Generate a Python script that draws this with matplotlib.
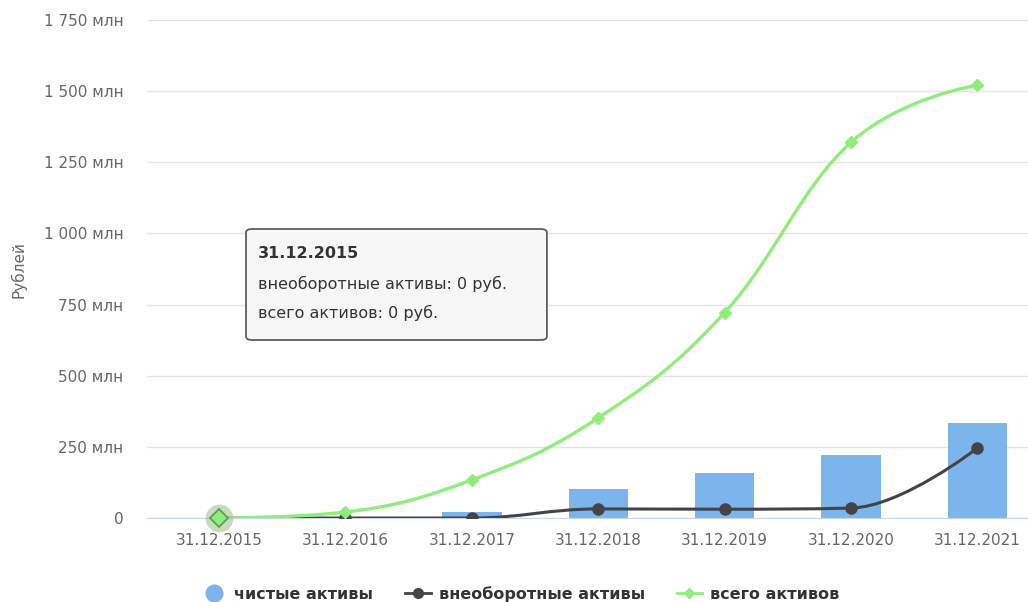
import matplotlib.pyplot as plt
import numpy as np
from matplotlib.path import Path
from matplotlib.patches import PathPatch, FancyBboxPatch
from matplotlib.ticker import FuncFormatter
from matplotlib.lines import Line2D

plt.rcParams['font.family'] = ['DejaVu Sans']

dates = ["31.12.2015", "31.12.2016", "31.12.2017", "31.12.2018",
         "31.12.2019", "31.12.2020", "31.12.2021"]
net_assets = [0, 0, 22, 102, 157, 223, 334]          # чистые активы, млн
noncurrent = [0, 0, 0, 32, 31, 35, 246]              # внеоборотные активы, млн
total_assets = [0, 21, 134, 352, 722, 1320, 1521]    # всего активов, млн

C_BAR = "#7cb5ec"
C_DARK = "#434348"
C_GREEN = "#90ed7d"


def spline_path(xs, ys, smoothing=1.5):
    # highcharts-like spline drawn as cubic bezier
    denom = smoothing + 1
    n = len(xs)
    left = [None] * n
    right = [None] * n
    for i in range(n):
        x, y = xs[i], ys[i]
        if i == 0 or i == n - 1:
            left[i] = (x, y)
            right[i] = (x, y)
            continue
        lx, ly = xs[i - 1], ys[i - 1]
        nx, ny = xs[i + 1], ys[i + 1]
        lcx = (smoothing * x + lx) / denom
        lcy = (smoothing * y + ly) / denom
        rcx = (smoothing * x + nx) / denom
        rcy = (smoothing * y + ny) / denom
        if rcx != lcx:
            corr = (rcy - lcy) * (rcx - x) / (rcx - lcx) + y - rcy
            lcy += corr
            rcy += corr
        if lcy > ly and lcy > y:
            lcy = max(ly, y)
            rcy = 2 * y - lcy
        elif lcy < ly and lcy < y:
            lcy = min(ly, y)
            rcy = 2 * y - lcy
        if rcy > ny and rcy > y:
            rcy = max(ny, y)
            lcy = 2 * y - rcy
        elif rcy < ny and rcy < y:
            rcy = min(ny, y)
            lcy = 2 * y - rcy
        left[i] = (lcx, lcy)
        right[i] = (rcx, rcy)
    verts = [(xs[0], ys[0])]
    codes = [Path.MOVETO]
    for i in range(1, n):
        verts += [right[i - 1], left[i], (xs[i], ys[i])]
        codes += [Path.CURVE4] * 3
    return Path(verts, codes)


fig = plt.figure(figsize=(10.28, 6.02), dpi=100)
ax = fig.add_axes([0.143, 0.1395, 0.857, 0.8272])

x = np.arange(len(dates))
ax.bar(x, net_assets, width=0.47, color=C_BAR, zorder=2)

ax.add_patch(PathPatch(spline_path(x, noncurrent), fill=False,
                       edgecolor=C_DARK, lw=2.2, zorder=3))
ax.plot(x, noncurrent, ls="none", marker="o", ms=8, color=C_DARK, zorder=4)

ax.add_patch(PathPatch(spline_path(x, total_assets), fill=False,
                       edgecolor=C_GREEN, lw=2.4, zorder=5))
ax.plot(x, total_assets, ls="none", marker="D", ms=6, color=C_GREEN, zorder=6)

# hover highlight on first point
ax.plot(x[0], total_assets[0], marker="o", ms=20, color="#9bbf8c",
        alpha=0.55, mec="none", zorder=6, clip_on=False)
ax.plot(x[0], total_assets[0], marker="D", ms=9, color=C_GREEN,
        mec="#5a9a4a", mew=1.2, zorder=7, clip_on=False)

ax.set_xlim(-0.57, 6.4)
ax.set_ylim(0, 1750)
ax.set_yticks(np.arange(0, 1751, 250))
ax.yaxis.set_major_formatter(FuncFormatter(
    lambda v, p: "0" if v == 0 else f"{int(v):,} млн".replace(",", " ")))
ax.set_xticks(x)
ax.set_xticklabels(dates)
ax.tick_params(axis="both", length=0, labelsize=11, labelcolor="#666666")
ax.tick_params(axis="y", pad=17)
ax.tick_params(axis="x", pad=11)
ax.grid(axis="y", color="#e6e6e6", lw=1)
ax.set_axisbelow(True)
for s in ["top", "right", "left"]:
    ax.spines[s].set_visible(False)
ax.spines["bottom"].set_color("#ccd6eb")

fig.text(0.018, 0.5515, "Рублей", rotation=90, ha="center", va="center",
         fontsize=11, color="#666666")

# tooltip
tip = FancyBboxPatch((0.2393, 0.4352), 0.2927, 0.1844,
                     boxstyle="round,pad=0,rounding_size=0.006",
                     transform=fig.transFigure, fc="#f7f7f7", ec="#555555",
                     lw=1.3, alpha=0.95, zorder=10)
fig.add_artist(tip)
fig.text(0.251, 0.5797, "31.12.2015", fontsize=11.5, fontweight="bold",
         color="#333333", va="center", ha="left", zorder=11)
fig.text(0.251, 0.5282, "внеоборотные активы: 0 руб.", fontsize=11.5,
         color="#333333", va="center", ha="left", zorder=11)
fig.text(0.251, 0.4801, "всего активов: 0 руб.", fontsize=11.5,
         color="#333333", va="center", ha="left", zorder=11)

handles = [
    Line2D([], [], ls="none", marker="o", ms=12, color=C_BAR),
    Line2D([], [], color=C_DARK, lw=2, marker="o", ms=7),
    Line2D([], [], color=C_GREEN, lw=2, marker="D", ms=5),
]
fig.legend(handles, ["чистые активы", "внеоборотные активы", "всего активов"],
           loc="lower center", bbox_to_anchor=(0.506, -0.024), ncol=3,
           frameon=False, handlelength=1.6, handletextpad=0.5,
           columnspacing=2.0, labelcolor="#333333",
           prop={"size": 11.5, "weight": "bold"})

fig.savefig("out.png", dpi=100)
